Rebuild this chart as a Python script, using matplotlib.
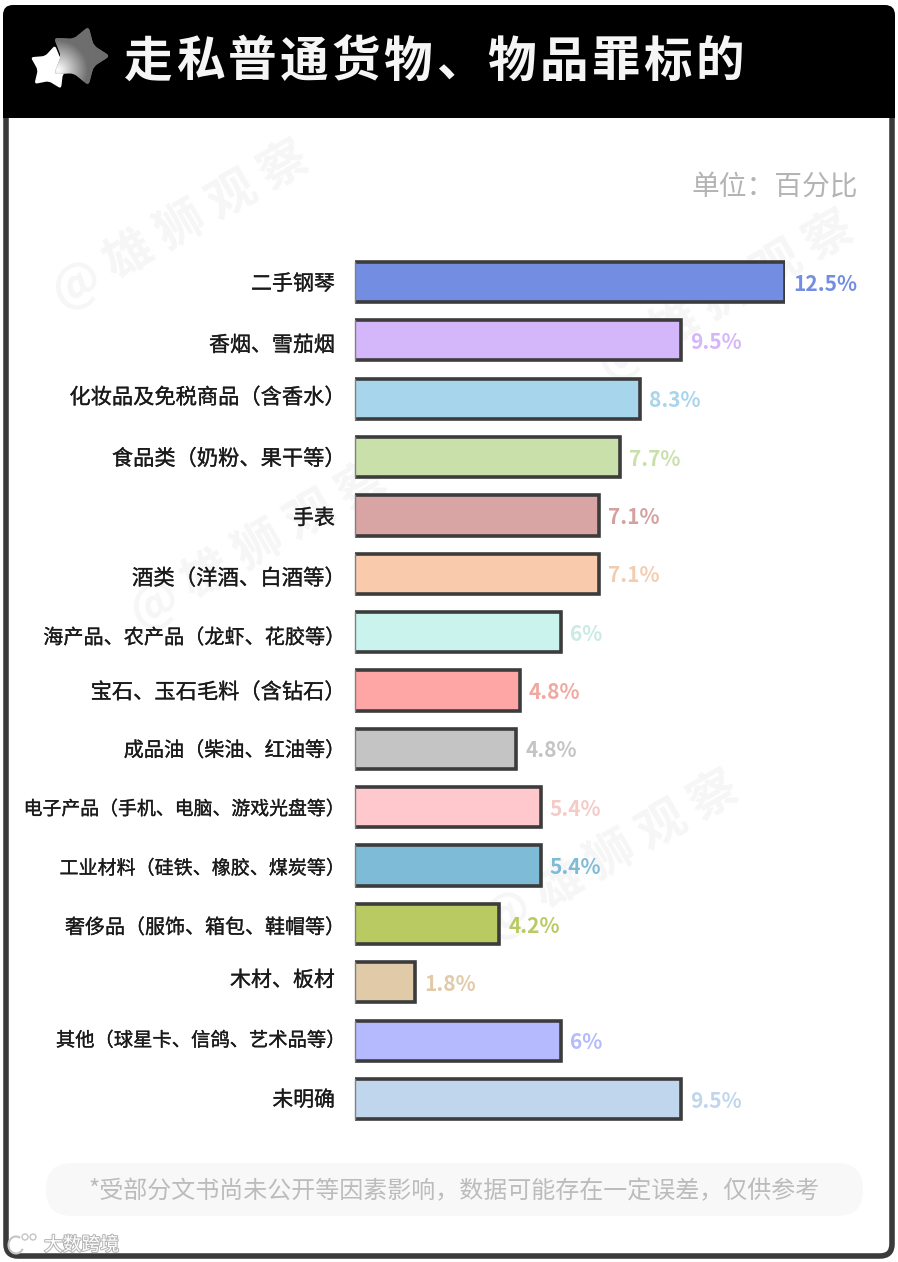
import numpy as np
import matplotlib
matplotlib.use('Agg')
import matplotlib.pyplot as plt
import matplotlib.patheffects as pe
from matplotlib.patches import FancyBboxPatch, PathPatch, Rectangle, Circle, Arc
from matplotlib.path import Path

plt.rcParams['font.family'] = ['Noto Sans CJK SC', 'DejaVu Sans']

title = '走私普通货物、物品罪标的'
unit = '单位：百分比'
note = '*受部分文书尚未公开等因素影响，数据可能存在一定误差，仅供参考'
watermark = '@ 雄 狮 观 察'

categories = ['二手钢琴', '香烟、雪茄烟', '化妆品及免税商品（含香水）', '食品类（奶粉、果干等）',
              '手表', '酒类（洋酒、白酒等）', '海产品、农产品（龙虾、花胶等）',
              '宝石、玉石毛料（含钻石）', '成品油（柴油、红油等）', '电子产品（手机、电脑、游戏光盘等）',
              '工业材料（硅铁、橡胶、煤炭等）', '奢侈品（服饰、箱包、鞋帽等）', '木材、板材',
              '其他（球星卡、信鸽、艺术品等）', '未明确']
# bar lengths as drawn, the labels do not always agree (second 4.8 is shorter)
bar_values = [12.5, 9.5, 8.3, 7.7, 7.1, 7.1, 6.0, 4.8, 4.7, 5.4, 5.4, 4.2, 1.75, 6.0, 9.5]
value_labels = ['12.5%', '9.5%', '8.3%', '7.7%', '7.1%', '7.1%', '6%', '4.8%', '4.8%',
                '5.4%', '5.4%', '4.2%', '1.8%', '6%', '9.5%']
bar_colors = ['#728de2', '#d4b6fb', '#a6d5ec', '#c9e0aa', '#d9a4a4', '#f9caac', '#c9f3ec',
              '#fea5a5', '#c4c4c4', '#fec8cd', '#7dbbd6', '#b9ca63', '#e0caa8', '#b5baff', '#c0d6ec']
label_colors = ['#728de2', '#d4b6fb', '#a6d5ec', '#c9e0aa', '#d4a0a0', '#f3cdb0', '#c9ebe4',
                '#f0a8a0', '#c4c4c4', '#f5cbc8', '#7dbbd6', '#b9ca63', '#e0caa8', '#b5baff', '#c0d6ec']
# the labels were squeezed by hand in the original
label_sizes = [15.1, 15.1, 15.3, 15.3, 15.1, 15.4, 14.5, 15.3, 14.5, 13.6, 13.7, 14.4, 15.1, 13.9, 15.0]
label_dy = [2, 5, -1, 2, 3, 5, 6, 2, 2, 2, 3, 4, -2, 0, 1]

W, H = 898, 1262
fig = plt.figure(figsize=(W / 100, H / 100), dpi=100, facecolor='white')

bg = fig.add_axes([0, 0, 1, 1])
bg.set_xlim(0, W)
bg.set_ylim(H, 0)
bg.axis('off')

card = FancyBboxPatch((6, 8), 886, 1248, boxstyle='round,pad=0,rounding_size=12',
                      facecolor='white', edgecolor='#3a3a3a', linewidth=4)
bg.add_patch(card)
bg.add_patch(FancyBboxPatch((3, 5), 892, 60, boxstyle='round,pad=0,rounding_size=10',
                            facecolor='black', edgecolor='none'))
bg.add_patch(Rectangle((3, 30), 892, 88, facecolor='black', edgecolor='none'))


def star_path(cx, cy, r, rot, soft=0.22):
    # five point star with rounded corners
    ang = np.deg2rad(np.arange(10) * 36 + rot)
    rad = np.where(np.arange(10) % 2 == 0, r, r * 0.58)
    pts = np.column_stack([cx + rad * np.cos(ang), cy + rad * np.sin(ang)])
    verts, codes = [], []
    for i in range(10):
        p, prev, nxt = pts[i], pts[i - 1], pts[(i + 1) % 10]
        verts += [p + (prev - p) * soft, p, p + (nxt - p) * soft]
        codes += [Path.LINETO if i else Path.MOVETO, Path.CURVE3, Path.CURVE3]
    verts.append(verts[0])
    codes.append(Path.CLOSEPOLY)
    return Path(verts, codes)


bg.add_patch(PathPatch(star_path(51, 68, 23, -80), facecolor='white', edgecolor='none'))
grey_star = PathPatch(star_path(79, 56, 31, -72), facecolor='#6e6e6e', edgecolor='none')
bg.add_patch(grey_star)
gx, gy = np.meshgrid(np.linspace(45, 115, 90), np.linspace(20, 92, 90))
glow = np.clip(1 - np.hypot(gx - 58, gy - 70) / 30, 0, 1)
img = bg.imshow(0.43 + 0.57 * glow, extent=(45, 115, 92, 20), cmap='gray', vmin=0, vmax=1,
                aspect='auto', zorder=3)
img.set_clip_path(grey_star)
bg.set_xlim(0, W)
bg.set_ylim(H, 0)

for k, ch in enumerate(title):
    bg.text(148 + 52 * k, 62, ch, color='#f5f5f5', fontsize=35, fontweight='bold', va='center', ha='center')
bg.text(858, 187, unit, color='#b4b4b4', fontsize=20, va='center', ha='right')

for x, y in [(180, 225), (725, 295), (258, 545), (610, 855)]:
    bg.text(x, y, watermark, color='#f6f6f6', fontsize=35, fontweight='bold', rotation=30,
            ha='center', va='center')

bg.add_patch(FancyBboxPatch((46, 1163), 817, 53, boxstyle='round,pad=0,rounding_size=26',
                            facecolor='#f8f8f8', edgecolor='none'))
bg.text(454, 1191, note, color='#bcbcbc', fontsize=17.3, va='center', ha='center')

# weibo style stamp in the corner
stamp = [pe.withStroke(linewidth=1.5, foreground='#b5b5b5')]
bg.text(44, 1245, '大数跨境', color='white', fontsize=13.5, va='center', ha='left', path_effects=stamp)
bg.add_patch(Arc((16, 1245), 15, 17, theta1=30, theta2=300, edgecolor='#c4c4c4', linewidth=1.5))
bg.add_patch(Circle((25, 1237), 3, facecolor='white', edgecolor='#c4c4c4', linewidth=1))
bg.add_patch(Circle((33, 1237), 3, facecolor='white', edgecolor='#c4c4c4', linewidth=1))

# chart, axes box chosen so 0..12.5 spans the bar area
top, step = 282 - 58.36 / 2, 58.36
ax = fig.add_axes([355 / W, 1 - (top + 15 * step) / H, (784.5 - 355) / W, 15 * step / H])
ax.patch.set_alpha(0)
y = np.arange(len(categories))
# start left of the axes so the clip removes the left stroke, it is thin in the original
hide = 0.1
bars = ax.barh(y, np.array(bar_values) + hide, left=-hide, height=0.69, color=bar_colors,
               edgecolor='#3c3c3c', linewidth=2.6)
for b in bars:
    ax.plot([0, 0], [b.get_y(), b.get_y() + b.get_height()], color='#808080', linewidth=1, clip_on=False)
ax.set_xlim(0, 12.5)
ax.set_ylim(len(categories) - 0.5, -0.5)
ax.set_yticks([])
ax.set_xticks([])
for s in ax.spines.values():
    s.set_visible(False)

label_fx = [pe.withStroke(linewidth=0.2, foreground='#1a1a1a')]
for i, name in enumerate(categories):
    # closing bracket has half an em of blank on its right
    px = -20 + (label_sizes[i] / 0.72 / 2 if name.endswith('）') else 0)
    ax.annotate(name, (0, i), xytext=(px * 0.72, -label_dy[i] * 0.72), textcoords='offset points',
                fontsize=label_sizes[i], color='#1a1a1a', va='center', ha='right',
                annotation_clip=False, path_effects=label_fx)

for i, (v, lab, c) in enumerate(zip(bar_values, value_labels, label_colors)):
    ax.annotate(lab, (v, i), xytext=(6.5, -1.5), textcoords='offset points', color=c, fontsize=15,
                fontweight='bold', va='center', ha='left', annotation_clip=False)

fig.savefig('out.png', dpi=100)
